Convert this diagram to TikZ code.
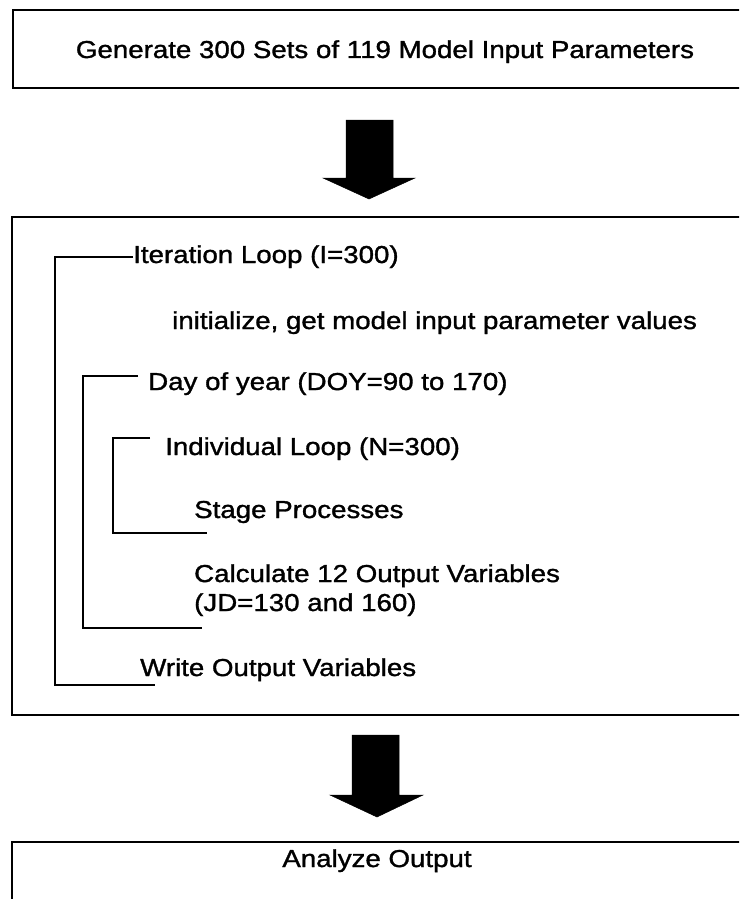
\documentclass[tikz,border=0pt]{standalone}
\usepackage{fontspec}
\setmainfont[FakeStretch=1.13,FakeBold=1.3]{Liberation Sans}
\begin{document}
\begin{tikzpicture}[x=1pt,y=-1pt,
  lbl/.style={anchor=base west,inner sep=0pt,font=\fontsize{24.5}{28}\selectfont},
  ctr/.style={anchor=base,inner sep=0pt,font=\fontsize{24.5}{28}\selectfont},
  boxline/.style={line width=2pt},
  brk/.style={line width=2pt},
  blockarrow/.style={fill=black,draw=black,line width=0.5pt}]
\useasboundingbox (0,0) rectangle (739,899);
\clip (0,0) rectangle (739,899);
% boxes
\draw[boxline] (760,10) -- (13,10) -- (13,88) -- (760,88);
\draw[boxline] (760,217) -- (12,217) -- (12,715) -- (760,715);
\draw[boxline] (760,842) -- (12,842) -- (12,910);
% texts
\node[ctr] (gen) at (385,58) {Generate 300 Sets of 119 Model Input Parameters};
\node[lbl] (iter) at (133,263) {Iteration Loop (I=300)};
\node[lbl] (init) at (172,329) {initialize, get model input parameter values};
\node[lbl] (doy) at (148,390) {Day of year (DOY=90 to 170)};
\node[lbl] (indiv) at (165,455) {Individual Loop (N=300)};
\node[lbl] (stage) at (194,518) {Stage Processes};
\node[lbl] (calc) at (194,582) {Calculate 12 Output Variables};
\node[lbl] (jd) at (194,611) {(JD=130 and 160)};
\node[lbl] (write) at (140,676) {Write Output Variables};
\node[ctr] (anal) at (377,867) {Analyze Output};
% brackets
\coordinate (itT) at (55,257);
\coordinate (itB) at (55,685);
\draw[brk] (iter.west |- itT) -- (itT) -- (itB) -- (155,685);
\coordinate (dyT) at (83,376);
\coordinate (dyB) at (83,628);
\draw[brk] (138,376) -- (dyT) -- (dyB) -- (202,628);
\coordinate (inT) at (113,438);
\coordinate (inB) at (113,533);
\draw[brk] (150,438) -- (inT) -- (inB) -- (207,533);
% block arrows
\fill[blockarrow] (346,120) -- (393,120) -- (393,178) -- (415,178) -- (369,199) -- (323,178) -- (346,178) -- cycle;
\fill[blockarrow] (352,735) -- (399,735) -- (399,795) -- (423,795) -- (377,817) -- (330,795) -- (352,795) -- cycle;
\end{tikzpicture}
\end{document}
